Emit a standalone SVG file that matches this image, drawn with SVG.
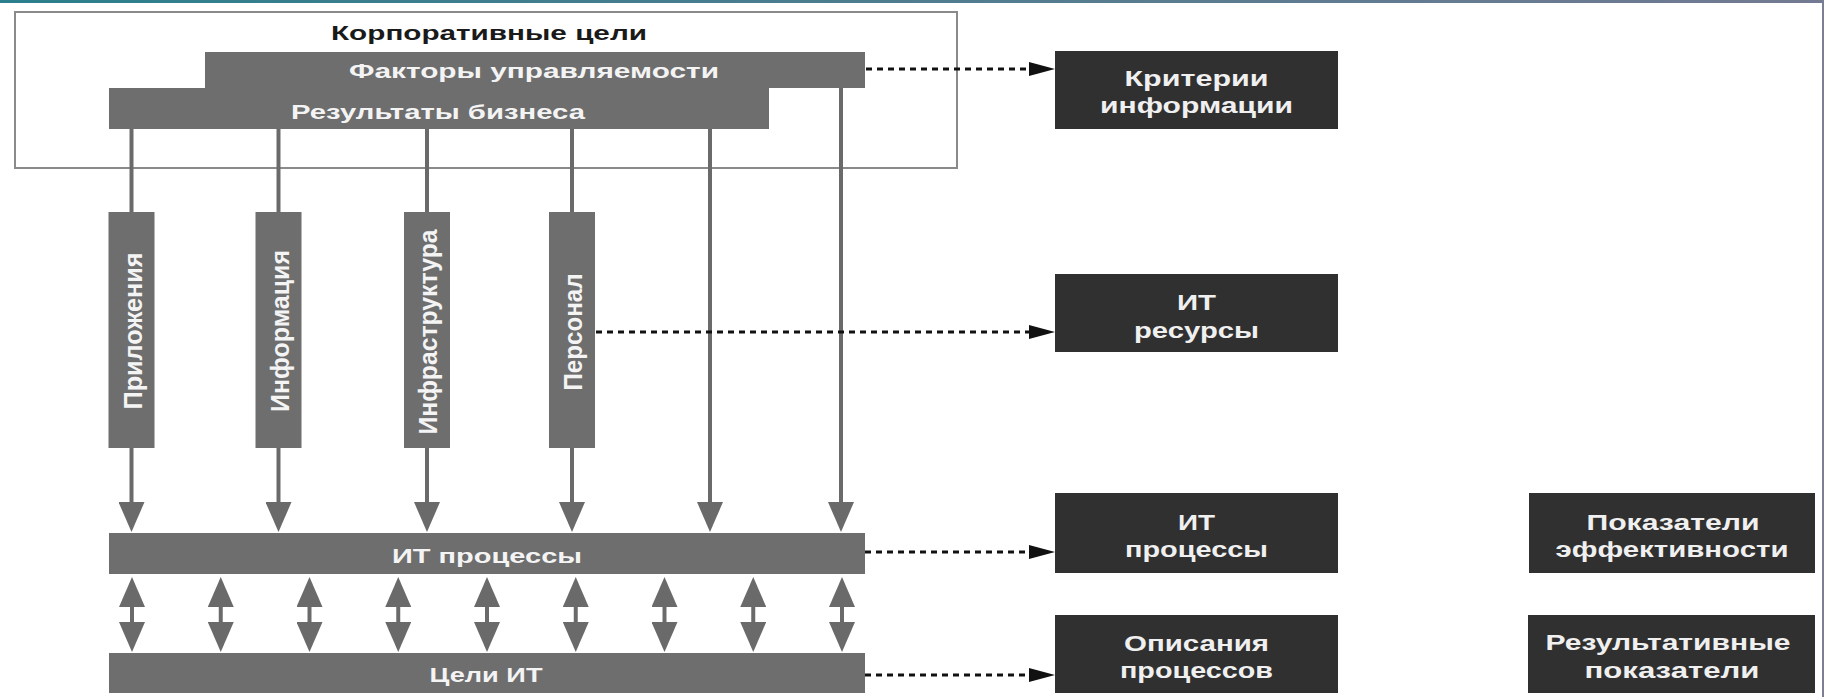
<svg xmlns="http://www.w3.org/2000/svg" width="1824" height="697" viewBox="0 0 1824 697">
<defs>
<linearGradient id="topband" x1="0" y1="0" x2="1" y2="0">
<stop offset="0" stop-color="#2b7f8c"/>
<stop offset="1" stop-color="#737a92"/>
</linearGradient>
<marker id="grayHead" markerUnits="userSpaceOnUse" viewBox="0 0 30 26" markerWidth="30" markerHeight="26" refX="20" refY="13" orient="auto-start-reverse">
<path d="M0,0 L30,13 L0,26 z" fill="#6a6a6a"/>
</marker>
<marker id="blackHead" markerUnits="userSpaceOnUse" viewBox="0 0 26 14" markerWidth="26" markerHeight="14" refX="0" refY="7" orient="auto">
<path d="M0,0 L26,7 L0,14 z" fill="#111"/>
</marker>
</defs>
<style>
.bar{fill:#6e6e6e}
.vbox{fill:#6e6e6e}
.dark{fill:#303030}
.frame{fill:none;stroke:#8a8a8a;stroke-width:2}
.wire{stroke:#6a6a6a;stroke-width:4;fill:none}
.arrow{stroke:#6a6a6a;stroke-width:4;fill:none;marker-end:url(#grayHead)}
.dbl{stroke:#6a6a6a;stroke-width:4;fill:none;marker-start:url(#grayHead);marker-end:url(#grayHead)}
.dot{stroke:#111;stroke-width:3;stroke-dasharray:6 5;fill:none;marker-end:url(#blackHead)}
text{font-family:"Liberation Sans",Arial,sans-serif;font-weight:bold;text-anchor:middle}
.wt{fill:#f4f4f4;font-size:21px}
.bt{fill:#f0f0f0;font-size:22px}
.vt{fill:#f4f4f4;font-size:26px}
.title{fill:#1a1a1a;font-size:21px}
</style>
<rect x="0" y="0" width="1824" height="697" fill="#ffffff"/>
<rect x="0" y="0" width="1824" height="3" fill="url(#topband)"/>
<rect x="1822" y="0" width="2" height="697" fill="#7a7f95"/>

<g id="corporate-goals">
<rect class="frame" x="15" y="12" width="942" height="156"/>
<text class="title" x="489" y="40" textLength="316" lengthAdjust="spacingAndGlyphs">Корпоративные цели</text>
</g>
<g id="governance-factors">
<rect class="bar" x="205" y="52" width="660" height="36"/>
<text class="wt" x="534" y="78" textLength="370" lengthAdjust="spacingAndGlyphs">Факторы управляемости</text>
</g>
<g id="business-results">
<rect class="bar" x="109" y="88" width="660" height="41"/>
<text class="wt" x="438" y="119" textLength="294" lengthAdjust="spacingAndGlyphs">Результаты бизнеса</text>
</g>

<g id="connectors">
<line class="wire" x1="131.5" y1="129" x2="131.5" y2="212"/>
<line class="wire" x1="278.5" y1="129" x2="278.5" y2="212"/>
<line class="wire" x1="427" y1="129" x2="427" y2="212"/>
<line class="wire" x1="572" y1="129" x2="572" y2="212"/>
<line class="arrow" x1="131.5" y1="448" x2="131.5" y2="522"/>
<line class="arrow" x1="278.5" y1="448" x2="278.5" y2="522"/>
<line class="arrow" x1="427" y1="448" x2="427" y2="522"/>
<line class="arrow" x1="572" y1="448" x2="572" y2="522"/>
<line class="arrow" x1="710" y1="129" x2="710" y2="522"/>
<line class="arrow" x1="841" y1="88" x2="841" y2="522"/>
<line class="dbl" x1="132" y1="587" x2="132" y2="642"/>
<line class="dbl" x1="220.75" y1="587" x2="220.75" y2="642"/>
<line class="dbl" x1="309.5" y1="587" x2="309.5" y2="642"/>
<line class="dbl" x1="398.25" y1="587" x2="398.25" y2="642"/>
<line class="dbl" x1="487" y1="587" x2="487" y2="642"/>
<line class="dbl" x1="575.75" y1="587" x2="575.75" y2="642"/>
<line class="dbl" x1="664.5" y1="587" x2="664.5" y2="642"/>
<line class="dbl" x1="753.25" y1="587" x2="753.25" y2="642"/>
<line class="dbl" x1="842" y1="587" x2="842" y2="642"/>
<line class="dot" x1="866" y1="69" x2="1029" y2="69"/>
<line class="dot" x1="596" y1="332" x2="1029" y2="332"/>
<line class="dot" x1="865" y1="552" x2="1029" y2="552"/>
<line class="dot" x1="865" y1="675" x2="1029" y2="675"/>
</g>

<g id="applications">
<rect class="vbox" x="108.5" y="212" width="46" height="236"/>
<text class="vt" transform="translate(141.5,331) rotate(-90)" textLength="157" lengthAdjust="spacingAndGlyphs">Приложения</text>
</g>
<g id="information">
<rect class="vbox" x="255.5" y="212" width="46" height="236"/>
<text class="vt" transform="translate(288.5,331) rotate(-90)" textLength="162" lengthAdjust="spacingAndGlyphs">Информация</text>
</g>
<g id="infrastructure">
<rect class="vbox" x="404" y="212" width="46" height="236"/>
<text class="vt" transform="translate(437,332) rotate(-90)" textLength="205" lengthAdjust="spacingAndGlyphs">Инфраструктура</text>
</g>
<g id="personnel">
<rect class="vbox" x="549" y="212" width="46" height="236"/>
<text class="vt" transform="translate(582,332) rotate(-90)" textLength="117" lengthAdjust="spacingAndGlyphs">Персонал</text>
</g>

<g id="it-processes">
<rect class="bar" x="109" y="533" width="756" height="41"/>
<text class="wt" x="487" y="563" textLength="190" lengthAdjust="spacingAndGlyphs">ИТ процессы</text>
</g>
<g id="it-goals">
<rect class="bar" x="109" y="653" width="756" height="40"/>
<text class="wt" x="486" y="682" textLength="113" lengthAdjust="spacingAndGlyphs">Цели ИТ</text>
</g>

<g id="info-criteria">
<rect class="dark" x="1055" y="51" width="283" height="78"/>
<text class="bt" x="1196.5" y="86" textLength="144" lengthAdjust="spacingAndGlyphs">Критерии</text>
<text class="bt" x="1196.5" y="113" textLength="193" lengthAdjust="spacingAndGlyphs">информации</text>
</g>
<g id="it-resources">
<rect class="dark" x="1055" y="274" width="283" height="78"/>
<text class="bt" x="1196.5" y="310" textLength="39" lengthAdjust="spacingAndGlyphs">ИТ</text>
<text class="bt" x="1196.5" y="338" textLength="125" lengthAdjust="spacingAndGlyphs">ресурсы</text>
</g>
<g id="it-processes-box">
<rect class="dark" x="1055" y="493" width="283" height="80"/>
<text class="bt" x="1196.5" y="530" textLength="37" lengthAdjust="spacingAndGlyphs">ИТ</text>
<text class="bt" x="1196.5" y="557" textLength="143" lengthAdjust="spacingAndGlyphs">процессы</text>
</g>
<g id="process-descriptions">
<rect class="dark" x="1055" y="615" width="283" height="78"/>
<text class="bt" x="1196.5" y="651" textLength="145" lengthAdjust="spacingAndGlyphs">Описания</text>
<text class="bt" x="1196.5" y="678" textLength="153" lengthAdjust="spacingAndGlyphs">процессов</text>
</g>
<g id="performance-indicators">
<rect class="dark" x="1529" y="493" width="286" height="80"/>
<text class="bt" x="1673" y="530" textLength="173" lengthAdjust="spacingAndGlyphs">Показатели</text>
<text class="bt" x="1672" y="557" textLength="233" lengthAdjust="spacingAndGlyphs">эффективности</text>
</g>
<g id="outcome-measures">
<rect class="dark" x="1528" y="615" width="287" height="78"/>
<text class="bt" x="1668" y="650" textLength="245" lengthAdjust="spacingAndGlyphs">Результативные</text>
<text class="bt" x="1672" y="678" textLength="175" lengthAdjust="spacingAndGlyphs">показатели</text>
</g>
</svg>
